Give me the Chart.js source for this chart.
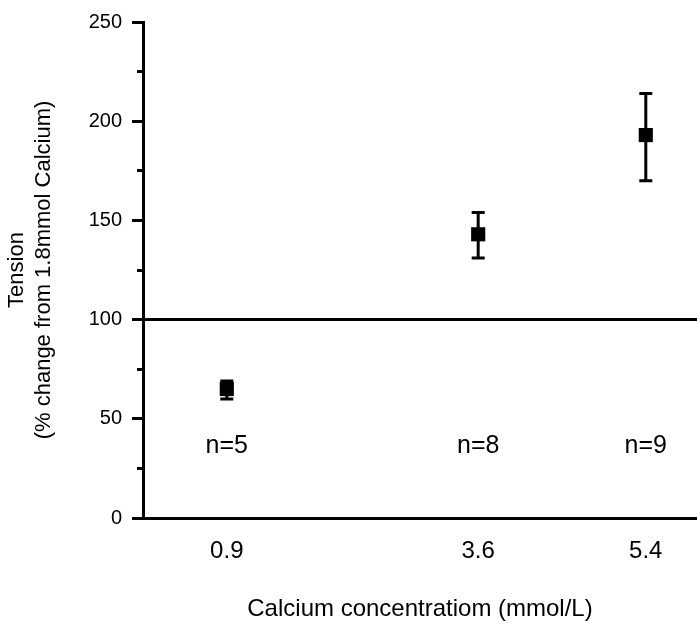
<!DOCTYPE html>
<html>
<head>
<meta charset="utf-8">
<script src="https://cdn.jsdelivr.net/npm/chart.js@4.4.1/dist/chart.umd.min.js"></script>
<style>
  html, body { margin: 0; padding: 0; background: #fff; }
  #wrap { width: 697px; height: 631px; }
</style>
</head>
<body>
<div id="wrap"><canvas id="tensionChart" width="697" height="631"></canvas></div>
<script>
// calcium concentration (mmol/L)
const calciumLevels = [0.9, 3.6, 5.4];
// tension, % of 1.8mmol calcium
const tensionMean = [65, 143, 193];
const tensionLow = [60, 131, 170];
const tensionHigh = [69, 154, 214];
const sampleSizes = ['n=5', 'n=8', 'n=9'];
const sampleLabelLevel = 36;
const baselineLevel = 100;
const yTicks = [0, 50, 100, 150, 200, 250];

const FONT = "'Liberation Sans', Arial, Helvetica, sans-serif";

// error bars, n labels and the 100% baseline
const extrasPlugin = {
  id: 'extras',
  beforeDatasetsDraw(chart) {
    const { ctx, chartArea, scales: { x, y } } = chart;
    ctx.save();
    ctx.strokeStyle = '#000';
    ctx.lineWidth = 3;
    const yb = y.getPixelForValue(baselineLevel);
    ctx.beginPath();
    ctx.moveTo(chartArea.left, yb);
    ctx.lineTo(chartArea.right, yb);
    ctx.stroke();

    calciumLevels.forEach((lvl, i) => {
      const px = x.getPixelForValue(lvl);
      const top = y.getPixelForValue(tensionHigh[i]);
      const bot = y.getPixelForValue(tensionLow[i]);
      ctx.beginPath();
      ctx.moveTo(px, top);
      ctx.lineTo(px, bot);
      ctx.moveTo(px - 6.5, top);
      ctx.lineTo(px + 6.5, top);
      ctx.moveTo(px - 6.5, bot);
      ctx.lineTo(px + 6.5, bot);
      ctx.stroke();
    });

    ctx.fillStyle = '#000';
    ctx.font = '25px ' + FONT;
    ctx.textAlign = 'center';
    ctx.textBaseline = 'middle';
    calciumLevels.forEach((lvl, i) => {
      ctx.fillText(sampleSizes[i], x.getPixelForValue(lvl), y.getPixelForValue(sampleLabelLevel));
    });
    ctx.restore();
  }
};

const ctx = document.getElementById('tensionChart').getContext('2d');
new Chart(ctx, {
  type: 'scatter',
  data: {
    datasets: [{
      label: 'Tension',
      data: calciumLevels.map((lvl, i) => ({ x: lvl, y: tensionMean[i] })),
      pointStyle: 'rect',
      pointRadius: 10,
      pointHoverRadius: 10,
      backgroundColor: '#000',
      borderWidth: 0,
      clip: false
    }]
  },
  options: {
    responsive: false,
    animation: false,
    layout: {
      autoPadding: false,
      padding: { top: 22, right: 0, bottom: 0, left: 0 }
    },
    plugins: {
      legend: { display: false },
      tooltip: { enabled: false }
    },
    scales: {
      x: {
        type: 'linear',
        min: 0,
        max: 5.95,
        afterBuildTicks: (scale) => {
          scale.ticks = calciumLevels.map(v => ({ value: v }));
        },
        afterFit: (scale) => {
          scale.height = 113;
          scale.paddingLeft = 0;
          scale.paddingRight = 0;
        },
        grid: { display: false },
        border: { display: true, color: '#000', width: 3 },
        ticks: {
          color: '#000',
          font: { family: FONT, size: 24 },
          padding: 11,
          autoSkip: false,
          maxRotation: 0,
          callback: (v) => Number(v).toFixed(1)
        },
        title: {
          display: true,
          text: 'Calcium concentratiom (mmol/L)',
          color: '#000',
          font: { family: FONT, size: 24 },
          padding: { top: 35, bottom: 7 }
        }
      },
      y: {
        min: 0,
        max: 250,
        afterBuildTicks: (scale) => {
          const t = [];
          for (let v = 0; v <= 250; v += 25) t.push({ value: v });
          scale.ticks = t;
        },
        afterFit: (scale) => {
          scale.width = 143;
          scale.paddingTop = 0;
          scale.paddingBottom = 0;
        },
        grid: {
          drawOnChartArea: false,
          drawTicks: true,
          tickLength: 11,
          tickWidth: 3,
          tickColor: '#000',
          tickBorderDash: (c) => (c.tick && c.tick.value % 50 !== 0) ? [20, 5] : [],
          tickBorderDashOffset: (c) => (c.tick && c.tick.value % 50 !== 0) ? 20 : 0
        },
        border: { display: true, color: '#000', width: 3 },
        ticks: {
          color: '#000',
          font: { family: FONT, size: 20 },
          padding: 10,
          autoSkip: false,
          callback: (v) => yTicks.includes(v) ? String(v) : ''
        },
        title: {
          display: true,
          text: ['Tension', '(% change from 1.8mmol Calcium)'],
          color: '#000',
          font: { family: FONT, size: 22 },
          padding: { top: 4, bottom: 0 }
        }
      }
    }
  },
  plugins: [extrasPlugin]
});
</script>
</body>
</html>
